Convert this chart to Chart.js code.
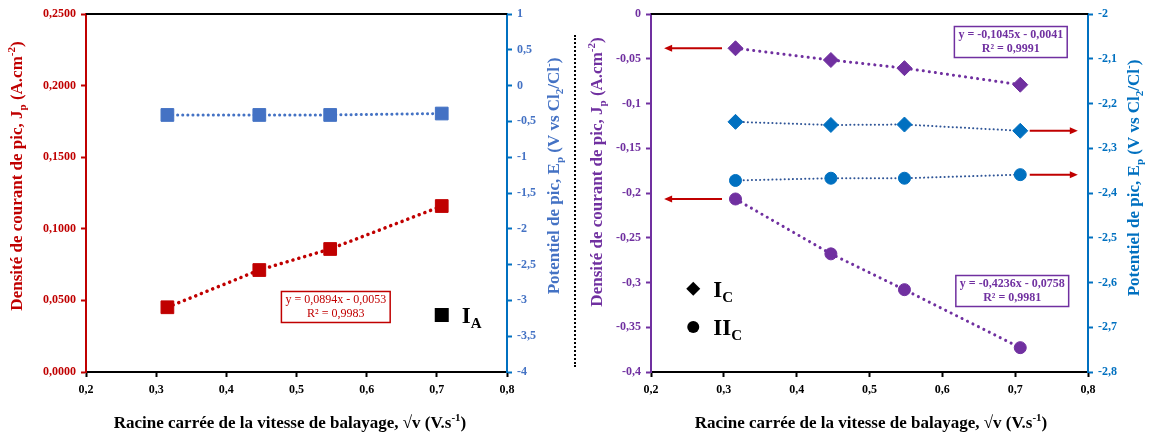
<!DOCTYPE html>
<html>
<head>
<meta charset="utf-8">
<script src="https://cdn.jsdelivr.net/npm/chart.js@4.4.1/dist/chart.umd.min.js"></script>
<style>
html, body { margin: 0; padding: 0; background: #fff; }
#wrap { position: relative; width: 1149px; height: 439px; }
.pane { position: absolute; top: 0; }
#sep { position: absolute; left: 574px; top: 35px; height: 332px; border-left: 2px dotted #000; }
</style>
</head>
<body>
<div id="wrap">
  <div class="pane" style="left:0;width:575px;height:439px"><canvas id="cA" width="575" height="439"></canvas></div>
  <div class="pane" style="left:575px;width:574px;height:439px"><canvas id="cC" width="574" height="439"></canvas></div>
  <div id="sep"></div>
</div>
<script>
// racine carrée de la vitesse de balayage
const xVals = [0.316, 0.447, 0.548, 0.707];

// pic anodique I_A
const jA = [0.0452, 0.0712, 0.0859, 0.1159];
const eA = [-0.41, -0.41, -0.41, -0.39];

// pics cathodiques I_C et II_C
const jIc = [-0.0383, -0.0514, -0.0605, -0.0790];
const jIIc = [-0.2067, -0.2680, -0.3080, -0.3728];
const eIc = [-2.241, -2.248, -2.247, -2.261];
const eIIc = [-2.372, -2.367, -2.367, -2.359];

// graduations
const xTicks = [0.2, 0.3, 0.4, 0.5, 0.6, 0.7, 0.8];
const jATicks = [0, 0.05, 0.1, 0.15, 0.2, 0.25];
const eATicks = [-4, -3.5, -3, -2.5, -2, -1.5, -1, -0.5, 0, 0.5, 1];
const jCTicks = [-0.4, -0.35, -0.3, -0.25, -0.2, -0.15, -0.1, -0.05, 0];
const eCTicks = [-2.8, -2.7, -2.6, -2.5, -2.4, -2.3, -2.2, -2.1, -2];

// équations des droites
const eqA = ["y = 0,0894x - 0,0053", "R\u00b2 = 0,9983"];
const eqIc = ["y = -0,1045x - 0,0041", "R\u00b2 = 0,9991"];
const eqIIc = ["y = -0,4236x - 0,0758", "R\u00b2 = 0,9981"];

const RED = "#C00000", BLUE = "#4472C4", PURPLE = "#7030A0", BLUE2 = "#0070C0", DOTBLUE = "#2F5597";
const FAM = '"Liberation Serif", "Times New Roman", serif';

function pts(ys) {
    return xVals.map((x, i) => ({ x: x, y: ys[i] }));
}
function comma(v, d) {
    return (d === undefined ? String(+v.toFixed(4)) : v.toFixed(d)).replace(".", ",");
}

// texte avec indices / exposants
function partFont(p, size) {
    const s = (p.sub || p.sup) ? Math.round(size * 0.65) : size;
    return (p.normal ? "" : "bold ") + s + "px " + FAM;
}
function drawRich(ctx, parts, x, y, size, color, rot) {
    ctx.save();
    ctx.translate(x, y);
    ctx.rotate(rot || 0);
    ctx.fillStyle = color;
    ctx.textBaseline = "middle";
    ctx.textAlign = "left";
    let w = 0;
    parts.forEach(p => { ctx.font = partFont(p, size); w += ctx.measureText(p.t).width; });
    let cx = -w / 2;
    parts.forEach(p => {
        ctx.font = partFont(p, size);
        const dy = p.sub ? size * 0.3 : (p.sup ? -size * 0.35 : 0);
        ctx.fillText(p.t, cx, dy);
        cx += ctx.measureText(p.t).width;
    });
    ctx.restore();
}

function eqBox(ctx, cx, cy, lines, color, bold) {
    ctx.save();
    ctx.font = (bold ? "bold " : "") + "12px " + FAM;
    const w = Math.max(...lines.map(l => ctx.measureText(l).width)) + 8;
    const h = 31;
    ctx.fillStyle = "#fff";
    ctx.fillRect(cx - w / 2, cy - h / 2, w, h);
    ctx.strokeStyle = color;
    ctx.lineWidth = 1.5;
    ctx.strokeRect(cx - w / 2, cy - h / 2, w, h);
    ctx.fillStyle = color;
    ctx.textAlign = "center";
    ctx.textBaseline = "middle";
    ctx.fillText(lines[0], cx, cy - 7);
    ctx.fillText(lines[1], cx, cy + 7);
    ctx.restore();
}

function arrow(ctx, x1, x2, y) {
    const dir = x2 > x1 ? 1 : -1;
    ctx.save();
    ctx.strokeStyle = RED;
    ctx.fillStyle = RED;
    ctx.lineWidth = 2;
    ctx.beginPath();
    ctx.moveTo(x1, y);
    ctx.lineTo(x2 - dir * 6, y);
    ctx.stroke();
    ctx.beginPath();
    ctx.moveTo(x2, y);
    ctx.lineTo(x2 - dir * 8, y - 3.5);
    ctx.lineTo(x2 - dir * 8, y + 3.5);
    ctx.closePath();
    ctx.fill();
    ctx.restore();
}

function legendItem(ctx, style, mx, my, main, sub) {
    ctx.save();
    ctx.fillStyle = "#000";
    if (style === "rect") {
        ctx.fillRect(mx - 7, my - 7, 14, 14);
    } else if (style === "rectRot") {
        ctx.beginPath();
        ctx.moveTo(mx, my - 7); ctx.lineTo(mx + 7, my); ctx.lineTo(mx, my + 7); ctx.lineTo(mx - 7, my);
        ctx.closePath(); ctx.fill();
    } else {
        ctx.beginPath(); ctx.arc(mx, my, 6, 0, Math.PI * 2); ctx.fill();
    }
    ctx.textAlign = "left";
    ctx.textBaseline = "alphabetic";
    ctx.font = "bold 23px " + FAM;
    const tx = mx + 20;
    ctx.fillText(main, tx, my + 8);
    const w = ctx.measureText(main).width;
    ctx.font = "bold 15px " + FAM;
    ctx.fillText(sub, tx + w, my + 13);
    ctx.restore();
}

function topLine(chart) {
    const a = chart.chartArea, ctx = chart.ctx;
    ctx.save();
    ctx.strokeStyle = "#000";
    ctx.lineWidth = 2;
    ctx.beginPath();
    ctx.moveTo(a.left, a.top);
    ctx.lineTo(a.right, a.top);
    ctx.stroke();
    ctx.restore();
}

const titleJ = [{ t: "Densité de courant de pic, J" }, { t: "p", sub: true }, { t: " (A.cm" }, { t: "-2", sup: true }, { t: ")" }];
const titleE = [{ t: "Potentiel de pic, E" }, { t: "p", sub: true }, { t: " (V vs Cl" }, { t: "2", sub: true }, { t: "/Cl" }, { t: "-", sup: true }, { t: ")" }];
const titleX = [{ t: "Racine carrée de la vitesse de balayage, \u221av (V.s" }, { t: "-1", sup: true }, { t: ")" }];

function tickFont() { return { family: FAM, size: 12, weight: "bold" }; }
function setTicks(arr) { return function (s) { s.ticks = arr.map(v => ({ value: v })); }; }

function xScale() {
    return {
        type: "linear", min: 0.2, max: 0.8,
        afterBuildTicks: setTicks(xTicks),
        afterFit: s => { s.height = 67; },
        ticks: { color: "#000", font: tickFont(), padding: 6, callback: v => comma(v, 1) },
        grid: { drawOnChartArea: false, tickLength: 5, tickWidth: 2, tickColor: "#000" },
        border: { color: "#000", width: 2 }
    };
}
function yScale(pos, min, max, arr, color, lblColor, width, fmt) {
    return {
        type: "linear", position: pos, min: min, max: max,
        afterBuildTicks: setTicks(arr),
        afterFit: s => { s.width = width; },
        ticks: { color: lblColor, font: tickFont(), padding: 5, callback: fmt },
        grid: { drawOnChartArea: false, tickLength: 5, tickWidth: 2, tickColor: color },
        border: { color: color, width: 2 }
    };
}

function lineSet(ys, axis, color, lineColor, style, r, w, gap) {
    return {
        data: pts(ys), yAxisID: axis,
        borderColor: lineColor, borderWidth: w, borderDash: [0.1, gap], borderCapStyle: "round",
        pointStyle: style, pointRadius: r, pointBackgroundColor: color, pointBorderColor: color, pointBorderWidth: 1
    };
}

const common = {
    responsive: false, animation: false,
    layout: { padding: { top: 14, left: 0, right: 0, bottom: 0 } },
    plugins: { legend: { display: false }, tooltip: { enabled: false } }
};

// graphique de gauche : pic anodique
new Chart(document.getElementById("cA").getContext("2d"), {
    type: "scatter",
    data: {
        datasets: [
            lineSet(eA, "y2", BLUE, BLUE, "rect", 9, 3, 5),
            lineSet(jA, "y", RED, RED, "rect", 9, 3.5, 6)
        ]
    },
    options: Object.assign({}, common, {
        showLine: true,
        scales: {
            x: xScale(),
            y: yScale("left", 0, 0.25, jATicks, RED, RED, 86, v => comma(v, 4)),
            y2: yScale("right", -4, 1, eATicks, BLUE2, BLUE, 68, v => comma(v))
        }
    }),
    plugins: [{
        id: "annotA",
        afterDraw(chart) {
            const ctx = chart.ctx, x = chart.scales.x, y = chart.scales.y;
            topLine(chart);
            eqBox(ctx, x.getPixelForValue(0.556), y.getPixelForValue(0.0454), eqA, RED, false);
            legendItem(ctx, "rect", x.getPixelForValue(0.707), y.getPixelForValue(0.0398), "I", "A");
            drawRich(ctx, titleJ, 18, 176, 17, RED, -Math.PI / 2);
            drawRich(ctx, titleE, 555, 176, 17, BLUE, -Math.PI / 2);
            drawRich(ctx, titleX, 290, 424, 17, "#000", 0);
        }
    }]
});

// graphique de droite : pics cathodiques
new Chart(document.getElementById("cC").getContext("2d"), {
    type: "scatter",
    data: {
        datasets: [
            lineSet(eIc, "y2", BLUE2, DOTBLUE, "rectRot", 7.5, 2, 4),
            lineSet(eIIc, "y2", BLUE2, DOTBLUE, "circle", 6, 2, 4),
            lineSet(jIc, "y", PURPLE, PURPLE, "rectRot", 7.5, 3, 6),
            lineSet(jIIc, "y", PURPLE, PURPLE, "circle", 6, 3, 6)
        ]
    },
    options: Object.assign({}, common, {
        showLine: true,
        scales: {
            x: xScale(),
            y: yScale("left", -0.4, 0, jCTicks, PURPLE, PURPLE, 76, v => comma(v)),
            y2: yScale("right", -2.8, -2, eCTicks, BLUE2, BLUE2, 61, v => comma(v))
        }
    }),
    plugins: [{
        id: "annotC",
        afterDraw(chart) {
            const ctx = chart.ctx, x = chart.scales.x, y = chart.scales.y, y2 = chart.scales.y2;
            topLine(chart);
            eqBox(ctx, x.getPixelForValue(0.694), y.getPixelForValue(-0.0313), eqIc, PURPLE, true);
            eqBox(ctx, x.getPixelForValue(0.696), y.getPixelForValue(-0.3095), eqIIc, PURPLE, true);
            arrow(ctx, x.getPixelForValue(0.2975), x.getPixelForValue(0.218), y.getPixelForValue(jIc[0]));
            arrow(ctx, x.getPixelForValue(0.2975), x.getPixelForValue(0.218), y.getPixelForValue(jIIc[0]));
            arrow(ctx, x.getPixelForValue(0.72), x.getPixelForValue(0.786), y2.getPixelForValue(eIc[3]));
            arrow(ctx, x.getPixelForValue(0.72), x.getPixelForValue(0.786), y2.getPixelForValue(eIIc[3]));
            legendItem(ctx, "rectRot", x.getPixelForValue(0.258), y.getPixelForValue(-0.307), "I", "C");
            legendItem(ctx, "circle", x.getPixelForValue(0.258), y.getPixelForValue(-0.3497), "II", "C");
            drawRich(ctx, titleJ, 23, 172, 17, PURPLE, -Math.PI / 2);
            drawRich(ctx, titleE, 560, 178, 17, BLUE2, -Math.PI / 2);
            drawRich(ctx, titleX, 296, 424, 17, "#000", 0);
        }
    }]
});
</script>
</body>
</html>
